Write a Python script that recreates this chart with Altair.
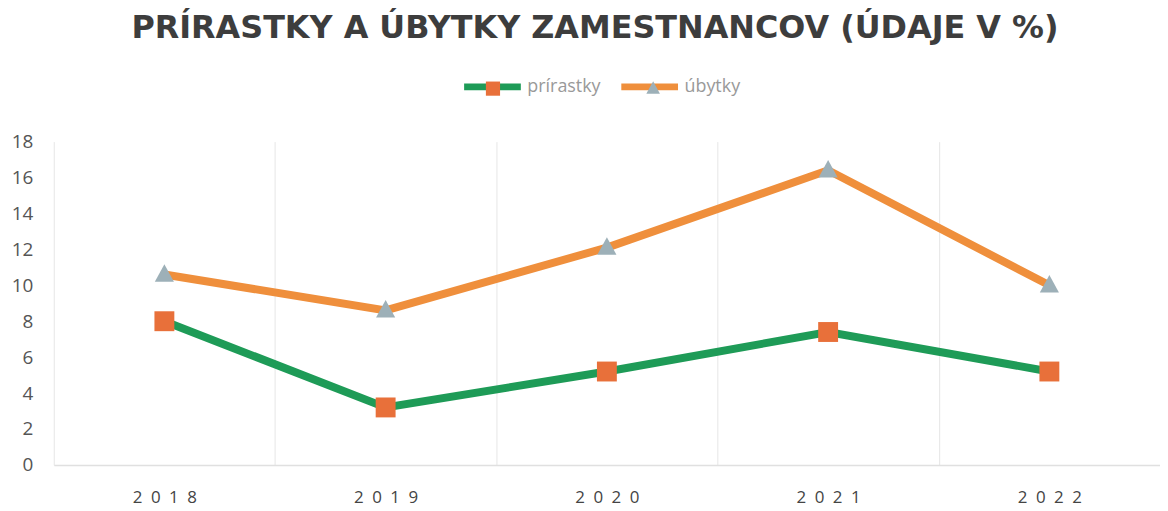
import altair as alt
import pandas as pd

years = ["2018", "2019", "2020", "2021", "2022"]
series_names = ["prírastky", "úbytky"]
prirastky = [8.0, 3.2, 5.2, 7.4, 5.2]
ubytky = [10.6, 8.6, 12.1, 16.4, 10.0]
y_ticks = [0, 2, 4, 6, 8, 10, 12, 14, 16, 18]

line_colors = ["#1e9b57", "#ef8f3c"]
marker_colors = ["#e8703a", "#9db0b8"]
marker_shapes = [
    "M-0.25,-0.25L0.25,-0.25L0.25,0.25L-0.25,0.25Z",
    "M0,-0.26L0.24,0.18L-0.24,0.18Z",
]

rows = []
for y, v in zip(years, prirastky):
    rows.append({"rok": y, "hodnota": v, "séria": series_names[0]})
for y, v in zip(years, ubytky):
    rows.append({"rok": y, "hodnota": v, "séria": series_names[1]})
df = pd.DataFrame(rows)

FONT = "Open Sans"
SYM = 3249

x_enc = alt.X(
    "rok:N",
    sort=years,
    title=None,
    scale=alt.Scale(paddingInner=0, paddingOuter=0),
    axis=alt.Axis(
        labelAngle=0,
        labelFont=FONT,
        labelFontSize=17,
        labelColor="#444444",
        labelPadding=25,
        labelExpr="join(split(datum.label, ''), '\u2002')",
        ticks=False,
        grid=True,
        gridColor="#e6e6e6",
        gridWidth=1,
        tickBand="extent",
        domainColor="#e0e0e0",
        domainWidth=1.5,
    ),
)
y_enc = alt.Y(
    "hodnota:Q",
    title=None,
    scale=alt.Scale(domain=[0, 18], nice=False),
    axis=alt.Axis(
        values=y_ticks,
        labelFont=FONT,
        labelFontSize=19,
        labelColor="#555555",
        labelPadding=21,
        ticks=False,
        domain=False,
        grid=False,
    ),
)

legend_common = dict(
    orient="none",
    direction="horizontal",
    title=None,
    symbolSize=SYM,
    labelFont=FONT,
    labelFontSize=18,
    labelColor="#999999",
    labelOffset=3,
)

lines = alt.Chart(df).mark_line(strokeWidth=8, strokeJoin="miter").encode(
    x=x_enc,
    y=y_enc,
    stroke=alt.Stroke(
        "séria:N",
        sort=series_names,
        scale=alt.Scale(domain=series_names, range=line_colors),
        legend=alt.Legend(
            symbolType="stroke",
            symbolStrokeWidth=7,
            legendX=409,
            legendY=-87,
            columnPadding=6,
            **legend_common,
        ),
    ),
)

marker_legend = alt.Legend(
    labelOpacity=0,
    symbolStrokeWidth=0,
    legendX=413,
    legendY=-82,
    columnPadding=27,
    **legend_common,
)
points = alt.Chart(df).mark_point(filled=True, opacity=1, size=6400).encode(
    x=x_enc,
    y=y_enc,
    shape=alt.Shape(
        "séria:N",
        sort=series_names,
        scale=alt.Scale(domain=series_names, range=marker_shapes),
        legend=marker_legend,
    ),
    fill=alt.Fill(
        "séria:N",
        sort=series_names,
        scale=alt.Scale(domain=series_names, range=marker_colors),
        legend=marker_legend,
    ),
)

chart = (
    alt.layer(lines, points)
    .resolve_scale(shape="independent", fill="independent", stroke="independent")
    .properties(
        width=1112,
        height=325,
        padding={"left": 3, "top": 3, "right": 0, "bottom": 0},
        title=alt.TitleParams(
            "PRÍRASTKY A ÚBYTKY ZAMESTNANCOV (ÚDAJE V %)",
            font="DejaVu Sans",
            fontSize=32,
            fontWeight="bold",
            color="#3d3d3d",
            anchor="middle",
            dx=-12,
            offset=10,
        ),
    )
    .configure_view(stroke=None)
)

chart.save("out.html", embed_options={"renderer": "svg", "actions": False})
